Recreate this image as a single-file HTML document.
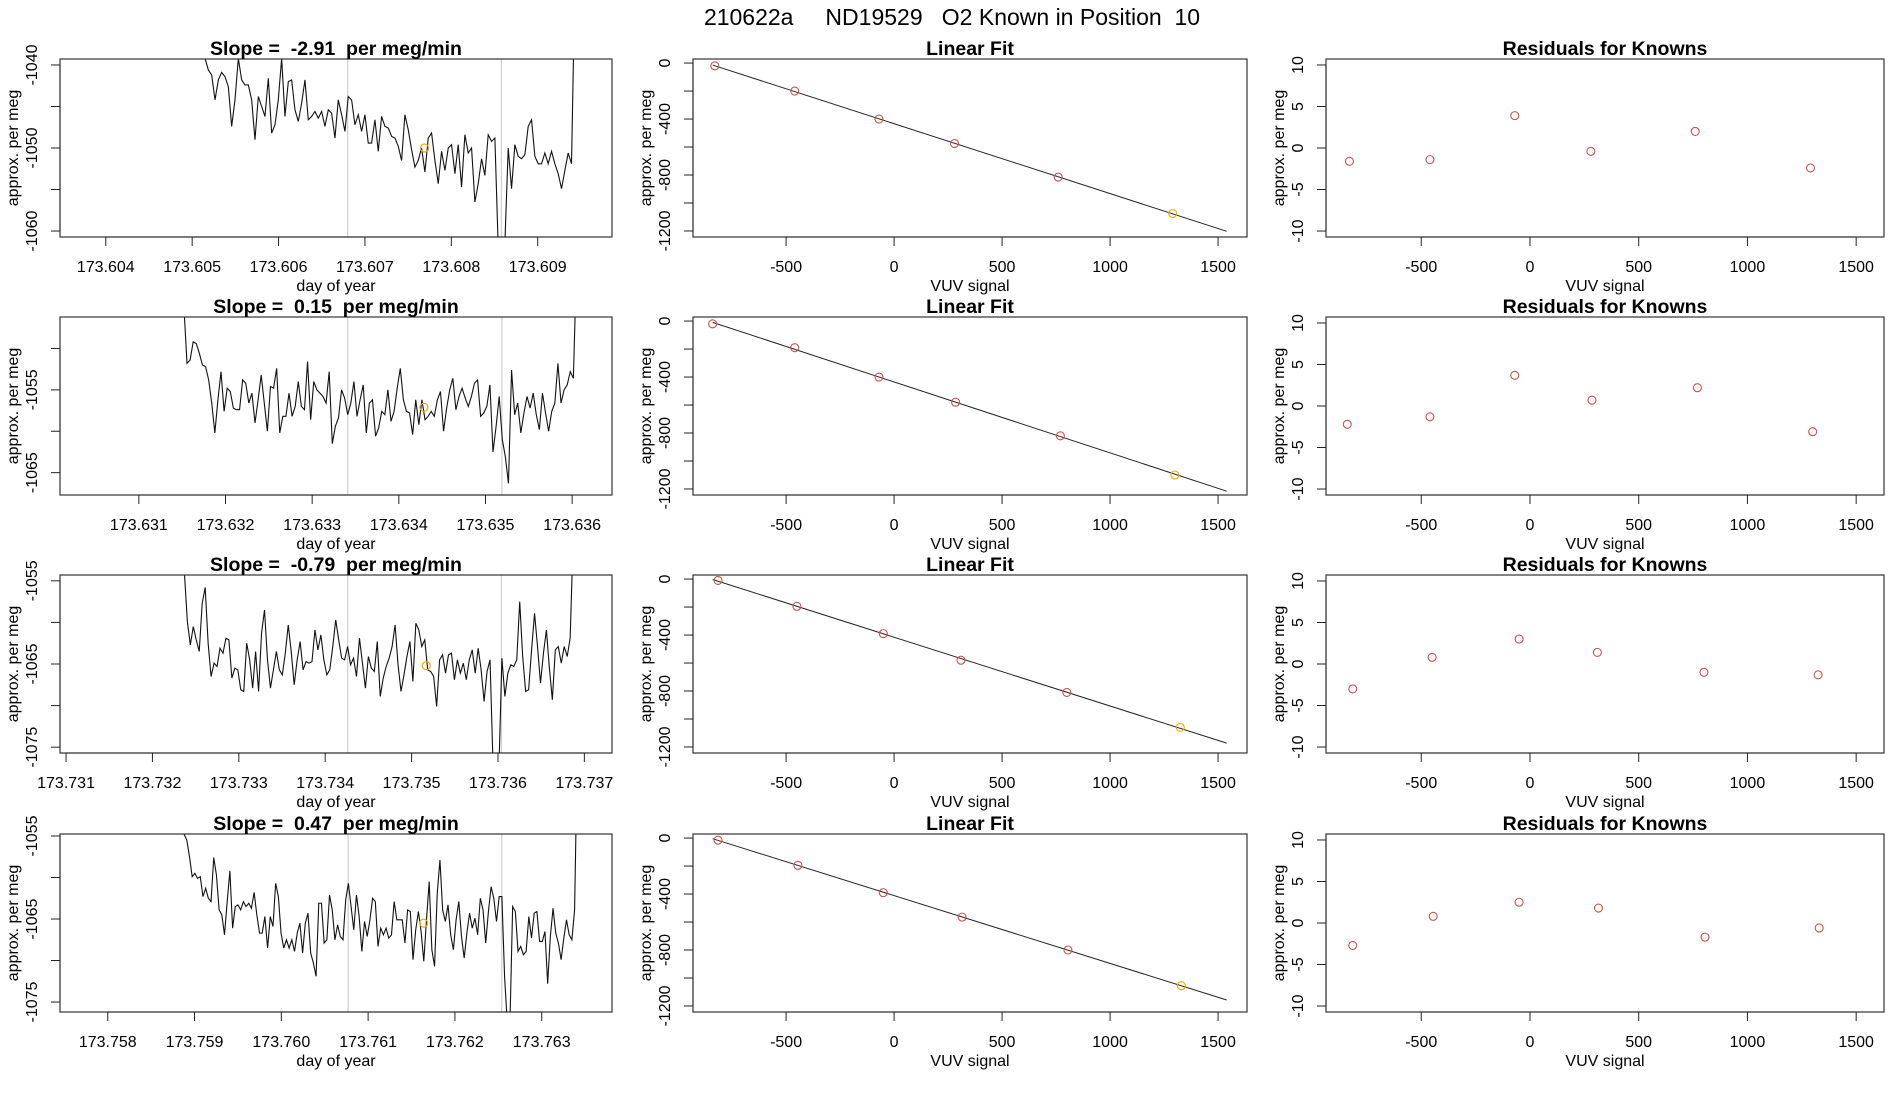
<!DOCTYPE html>
<html><head><meta charset="utf-8"><style>
html,body{margin:0;padding:0;background:#fff;}
svg{display:block;font-family:"Liberation Sans",Arial,sans-serif;}
text{white-space:pre;}
</style></head><body>
<svg id="chart" width="1900" height="1100" viewBox="0 0 1900 1100" xmlns="http://www.w3.org/2000/svg">
<text x="952" y="25" font-size="23" text-anchor="middle" xml:space="preserve">210622a     ND19529   O2 Known in Position  10</text>
</svg>
<script>
// ---------- data ----------
const slopes = ["-2.91", "0.15", "-0.79", "0.47"];
const timeDomains = [[173.60347,173.60986],[173.63009,173.63646],[173.73093,173.73732],[173.75745,173.76381]];
const timeTicks = [[173.604,173.605,173.606,173.607,173.608,173.609],[173.631,173.632,173.633,173.634,173.635,173.636],[173.731,173.732,173.733,173.734,173.735,173.736,173.737],[173.758,173.759,173.760,173.761,173.762,173.763]];
const valDomains = [[-1060.72,-1039.28],[-1067.7,-1046.2],[-1075.7,-1054.3],[-1076.2,-1054.76]];
const valTicks = [[-1060,-1055,-1050,-1045,-1040],[-1065,-1060,-1055,-1050],[-1075,-1070,-1065,-1060,-1055],[-1075,-1070,-1065,-1060,-1055]];
const valTickLabels = [[-1060,-1050,-1040],[-1065,-1055],[-1075,-1065,-1055],[-1075,-1065,-1055]];
const seriesStart = [173.60511,173.63152,173.73237,173.75888];
const seriesEnd = [173.60943,173.63605,173.73687,173.76341];
const markerLines = [[173.60680,173.60858],[173.63341,173.63519],[173.73426,173.73604],[173.76077,173.76254]];
const knownPoint = [[173.60769,-1050.0],[173.63429,-1057.1],[173.73517,-1065.2],[173.76164,-1065.5]];
const series1 = [-1038,-1039.2,-1040.6,-1041.2,-1044.2,-1041.8,-1040.9,-1041.4,-1042.6,-1047.4,-1044.2,-1039.2,-1041.8,-1042.4,-1042.4,-1044.2,-1049.0,-1043.8,-1045.0,-1046.2,-1041.6,-1048.2,-1047.2,-1044.2,-1039.2,-1046.2,-1042.0,-1041.8,-1045.4,-1046.8,-1044.6,-1041.8,-1046.6,-1046.2,-1045.6,-1046.4,-1045.6,-1047.4,-1045.4,-1045.8,-1048.8,-1044.2,-1046.0,-1048.0,-1043.8,-1044.2,-1047.2,-1046.0,-1048.0,-1046.0,-1049.4,-1049.4,-1046.6,-1050.4,-1046.2,-1047.4,-1047.6,-1048.6,-1048.8,-1049.8,-1051.5,-1046.0,-1047.8,-1050.2,-1052.3,-1051.5,-1050.0,-1052.9,-1048.8,-1048.2,-1051.5,-1054.3,-1050.4,-1052.7,-1050.0,-1049.6,-1053.1,-1049.6,-1054.7,-1048.4,-1050.6,-1050.0,-1056.5,-1054.3,-1051.3,-1053.3,-1048.4,-1049.2,-1048.8,-1062,-1062.5,-1061.5,-1050.0,-1054.9,-1049.6,-1051.0,-1051.3,-1050.8,-1047.4,-1046.6,-1051.0,-1051.9,-1051.9,-1050.6,-1051.9,-1050.4,-1051.9,-1053.1,-1054.9,-1052.7,-1050.6,-1051.9,-1030];
const series2 = [-1045,-1051.8,-1051.4,-1049.2,-1049.4,-1050.6,-1052.0,-1052.2,-1053.8,-1056.6,-1060.2,-1056.2,-1052.8,-1057.6,-1054.8,-1055.2,-1057.2,-1057.4,-1057.4,-1053.8,-1054.2,-1056.6,-1055.4,-1059.0,-1056.2,-1053.2,-1056.6,-1060.0,-1054.6,-1054.8,-1052.4,-1060.2,-1058.2,-1058.2,-1055.4,-1058.2,-1057.0,-1054.0,-1057.0,-1057.4,-1051.6,-1058.6,-1054.0,-1055.0,-1055.4,-1055.8,-1056.6,-1052.8,-1061.5,-1059.4,-1058.4,-1055.0,-1056.0,-1058.0,-1056.6,-1054.0,-1058.2,-1056.2,-1054.4,-1060.2,-1056.6,-1056.2,-1060.6,-1059.6,-1057.6,-1058.0,-1055.0,-1058.8,-1057.6,-1054.8,-1052.4,-1056.2,-1057.6,-1057.8,-1060.4,-1056.2,-1059.2,-1056.2,-1058.6,-1058.2,-1057.6,-1058.2,-1056.2,-1055.2,-1060.0,-1057.2,-1055.0,-1053.6,-1057.4,-1055.8,-1054.8,-1056.0,-1057.0,-1055.8,-1054.2,-1053.8,-1058.2,-1057.8,-1057.0,-1054.4,-1062.5,-1059.4,-1055.8,-1061.0,-1063.1,-1066.3,-1052.6,-1058.0,-1056.6,-1060.2,-1057.8,-1055.8,-1057.2,-1055.4,-1058.0,-1059.8,-1055.4,-1057.8,-1060.0,-1057.6,-1056.6,-1051.8,-1056.6,-1055.0,-1054.4,-1052.8,-1053.6,-1040];
const series3 = [-1054,-1059.9,-1062.7,-1060.5,-1062.1,-1063.5,-1057.7,-1055.8,-1062.5,-1066.5,-1064.9,-1065.3,-1063.1,-1063.7,-1061.9,-1062.1,-1066.7,-1065.5,-1065.7,-1068.1,-1068.3,-1062.5,-1064.5,-1067.9,-1063.5,-1068.3,-1061.3,-1058.5,-1064.5,-1067.9,-1065.7,-1063.5,-1065.7,-1066.3,-1063.7,-1060.3,-1063.5,-1067.5,-1064.5,-1062.3,-1065.7,-1064.7,-1064.9,-1064.7,-1060.9,-1063.3,-1061.5,-1064.5,-1066.3,-1065.7,-1062.9,-1059.7,-1062.1,-1064.3,-1064.5,-1062.9,-1065.1,-1064.3,-1066.5,-1061.9,-1064.9,-1067.9,-1064.1,-1065.5,-1065.9,-1062.3,-1068.9,-1066.7,-1065.3,-1064.3,-1062.9,-1060.3,-1065.1,-1068.3,-1066.3,-1064.1,-1062.3,-1067.1,-1060.1,-1060.9,-1062.9,-1062.1,-1065.7,-1065.9,-1066.5,-1070.1,-1064.5,-1063.9,-1066.1,-1063.9,-1063.7,-1066.9,-1064.5,-1066.1,-1064.9,-1066.9,-1064.5,-1063.3,-1066.1,-1063.1,-1065.7,-1069.5,-1065.9,-1064.5,-1077,-1078,-1077.5,-1064.3,-1068.9,-1066.1,-1065.1,-1065.3,-1064.5,-1057.5,-1064.1,-1068.3,-1068.1,-1063.3,-1058.9,-1062.9,-1067.3,-1063.7,-1060.9,-1065.5,-1069.3,-1063.3,-1062.9,-1064.9,-1062.9,-1064.1,-1061.9,-1050];
const series4 = [-1054.8,-1055.5,-1057.5,-1059.9,-1059.5,-1060.1,-1059.9,-1062.3,-1061.3,-1062.5,-1062.9,-1057.6,-1059.7,-1063.9,-1064.5,-1066.9,-1062.9,-1059.2,-1066.1,-1063.5,-1063.3,-1063.9,-1062.9,-1063.5,-1063.1,-1063.7,-1061.8,-1064.5,-1066.7,-1066.7,-1064.7,-1068.5,-1064.7,-1065.9,-1060.7,-1062.3,-1066.7,-1068.5,-1067.5,-1068.5,-1067.5,-1068.9,-1066.7,-1065.5,-1069.1,-1065.5,-1064.3,-1069.1,-1070.3,-1071.9,-1063.1,-1063.1,-1067.9,-1067.5,-1062.1,-1063.9,-1067.5,-1065.7,-1067.1,-1067.5,-1062.7,-1060.7,-1063.5,-1066.3,-1062.1,-1064.7,-1068.9,-1065.3,-1067.1,-1065.1,-1062.5,-1062.9,-1068.3,-1066.1,-1066.9,-1066.1,-1067.3,-1066.9,-1062.9,-1065.1,-1065.1,-1065.1,-1067.9,-1063.9,-1064.1,-1069.9,-1066.3,-1064.1,-1066.5,-1070.1,-1065.1,-1060.5,-1068.7,-1070.7,-1061.9,-1057.9,-1063.9,-1065.3,-1063.3,-1066.9,-1068.7,-1065.1,-1062.9,-1067.1,-1069.7,-1066.7,-1064.3,-1066.1,-1064.9,-1066.9,-1062.5,-1063.9,-1067.9,-1064.1,-1061.1,-1062.5,-1065.3,-1062.3,-1062.3,-1071.9,-1077.5,-1077.5,-1063.5,-1064.1,-1068.9,-1068.3,-1069.3,-1068.9,-1064.7,-1067.3,-1064.3,-1064.1,-1067.7,-1067.7,-1066.5,-1072.8,-1067.1,-1063.7,-1066.7,-1067.9,-1069.9,-1067.3,-1065.1,-1066.9,-1067.5,-1063.9,-1045];
const allSeries = [series1, series2, series3, series4];

const vuvSignal = [[-830,-460,-70,280,760,1290],[-840,-460,-70,285,770,1300],[-815,-450,-50,310,800,1325],[-815,-445,-50,315,805,1330]];
const perMeg = [[-20,-200,-400,-575,-815,-1075],[-20,-190,-400,-580,-820,-1100],[-10,-195,-390,-580,-810,-1060],[-15,-195,-390,-565,-800,-1055]];
const residuals = [[-1.6,-1.4,3.9,-0.4,2.0,-2.4],[-2.2,-1.3,3.7,0.7,2.2,-3.1],[-3.0,0.8,3.0,1.4,-1.0,-1.3],[-2.7,0.8,2.5,1.8,-1.7,-0.6]];
const fitRange = [-840, 1540];
const vuvDomain = [-931, 1634];
const vuvTicks = [-500, 0, 500, 1000, 1500];
const perMegDomain = [-1243, 29];
const perMegTicks = [0, -200, -400, -600, -800, -1000, -1200];
const perMegTickLabels = [0, -400, -800, -1200];
const resVuvDomain = [-938, 1628];
const resDomain = [-10.72, 10.72];
const resTicks = [-10, -5, 0, 5, 10];

// ---------- drawing ----------
const svg = document.getElementById('chart');
const NS = 'http://www.w3.org/2000/svg';
function mk(tag, attrs, parent) {
  const e = document.createElementNS(NS, tag);
  for (const k in attrs) e.setAttribute(k, attrs[k]);
  (parent || svg).appendChild(e);
  return e;
}
function scale(d, r) { return v => r[0] + (v - d[0]) / (d[1] - d[0]) * (r[1] - r[0]); }
const rowTops = [59, 317, 575, 834];
const H = 178;
const panels = [{l:60, r:612}, {l:693, r:1247}, {l:1326, r:1884}];

function axes(g, p, top, xs, ys, xt, xtl, yt, ytl, xlab, ylab, title, fmtX) {
  const bot = top + H;
  const box = mk('rect', {x:p.l, y:top, width:p.r-p.l, height:H, fill:'none', stroke:'#333', 'stroke-width':1.2}, g);
  
  
  const xa = mk('g', {}, g);
  
  
  mk('line', {x1:xs(xt[0]), x2:xs(xt[xt.length-1]), y1:bot, y2:bot, stroke:'#222'}, xa);
  xt.forEach(v => {
    mk('line', {x1:xs(v), x2:xs(v), y1:bot, y2:bot+9, stroke:'#222'}, xa);
    if (xtl.includes(v)) {
      const t = mk('text', {x:xs(v), y:bot+35, 'font-size':16, 'text-anchor':'middle'}, xa);
      
      
      t.textContent = fmtX(v);
    }
  });
  const xl = mk('text', {x:(p.l+p.r)/2, y:bot+54, 'font-size':16, 'text-anchor':'middle'}, g);
  
  
  xl.textContent = xlab;
  const ya = mk('g', {}, g);
  
  
  mk('line', {x1:p.l, x2:p.l, y1:ys(yt[0]), y2:ys(yt[yt.length-1]), stroke:'#222'}, ya);
  yt.forEach(v => {
    mk('line', {x1:p.l-9, x2:p.l, y1:ys(v), y2:ys(v), stroke:'#222'}, ya);
    if (ytl.includes(v)) {
      const t = mk('text', {x:0, y:0, 'font-size':16, 'text-anchor':'middle', transform:`translate(${p.l-23},${ys(v)}) rotate(-90)`}, ya);
      
      
      t.textContent = String(v);
    }
  });
  const yl = mk('text', {x:0, y:0, 'font-size':16, 'text-anchor':'middle', transform:`translate(${p.l-42},${top+H/2}) rotate(-90)`}, g);
  
  
  yl.textContent = ylab;
  const tt = mk('text', {x:(p.l+p.r)/2, y:top-4, 'font-size':19.5, 'font-weight':'bold', 'text-anchor':'middle'}, g);
  
  
  tt.textContent = title;
}

for (let i = 0; i < 4; i++) {
  const top = rowTops[i], bot = top + H;
  const pA = panels[0];
  const gA = mk('g', {});
  
  
  const xs = scale(timeDomains[i], [pA.l, pA.r]);
  const ys = scale(valDomains[i], [bot, top]);
  const clip = mk('clipPath', {id:'clipA'+i});
  mk('rect', {x:pA.l, y:top, width:pA.r-pA.l, height:H}, clip);
  markerLines[i].forEach(v => {
    const l = mk('line', {x1:xs(v), x2:xs(v), y1:top, y2:bot, stroke:'#cfcfcf', 'stroke-width':1.2}, gA);
    
    
  });
  const s = allSeries[i], n = s.length;
  const d = s.map((v, k) => {
    const t = seriesStart[i] + (seriesEnd[i] - seriesStart[i]) * k / (n - 1);
    return (k ? 'L' : 'M') + xs(t).toFixed(2) + ',' + ys(v).toFixed(2);
  }).join('');
  const path = mk('path', {d, fill:'none', stroke:'#111', 'stroke-width':1.1, 'clip-path':`url(#clipA${i})`}, gA);
  
  
  const kp = mk('circle', {cx:xs(knownPoint[i][0]), cy:ys(knownPoint[i][1]), r:4, fill:'none', stroke:'#ffa500', 'stroke-width':1.2}, gA);
  
  
  axes(gA, pA, top, xs, ys, timeTicks[i], timeTicks[i], valTicks[i], valTickLabels[i], 'day of year', 'approx. per meg', `Slope =  ${slopes[i]}  per meg/min`, v => v.toFixed(3));

  const pB = panels[1];
  const gB = mk('g', {});
  
  
  const bx = scale(vuvDomain, [pB.l, pB.r]);
  const by = scale(perMegDomain, [bot, top]);
  const X = vuvSignal[i], Y = perMeg[i];
  const mx = X.reduce((a,b)=>a+b,0)/X.length, my = Y.reduce((a,b)=>a+b,0)/Y.length;
  let sxy = 0, sxx = 0;
  X.forEach((x,k) => { sxy += (x-mx)*(Y[k]-my); sxx += (x-mx)*(x-mx); });
  const slope = sxy/sxx, icpt = my - slope*mx;
  const fl = mk('line', {x1:bx(fitRange[0]), y1:by(icpt+slope*fitRange[0]), x2:bx(fitRange[1]), y2:by(icpt+slope*fitRange[1]), stroke:'#222', 'stroke-width':1}, gB);
  
  
  X.forEach((x,k) => {
    const c = mk('circle', {cx:bx(x), cy:by(Y[k]), r:4, fill:'none', stroke: k === X.length-1 ? '#ffa500' : '#d05050', 'stroke-width':1.1}, gB);
    
    
  });
  axes(gB, pB, top, bx, by, vuvTicks, vuvTicks, perMegTicks, perMegTickLabels, 'VUV signal', 'approx. per meg', 'Linear Fit', v => String(v));

  const pC = panels[2];
  const gC = mk('g', {});
  
  
  const cx = scale(resVuvDomain, [pC.l, pC.r]);
  const cy = scale(resDomain, [bot, top]);
  residuals[i].forEach((r,k) => {
    const c = mk('circle', {cx:cx(X[k]), cy:cy(r), r:4, fill:'none', stroke:'#d05050', 'stroke-width':1.1}, gC);
    
    
  });
  axes(gC, pC, top, cx, cy, vuvTicks, vuvTicks, resTicks, resTicks, 'VUV signal', 'approx. per meg', 'Residuals for Knowns', v => String(v));
}
</script>
</body></html>
